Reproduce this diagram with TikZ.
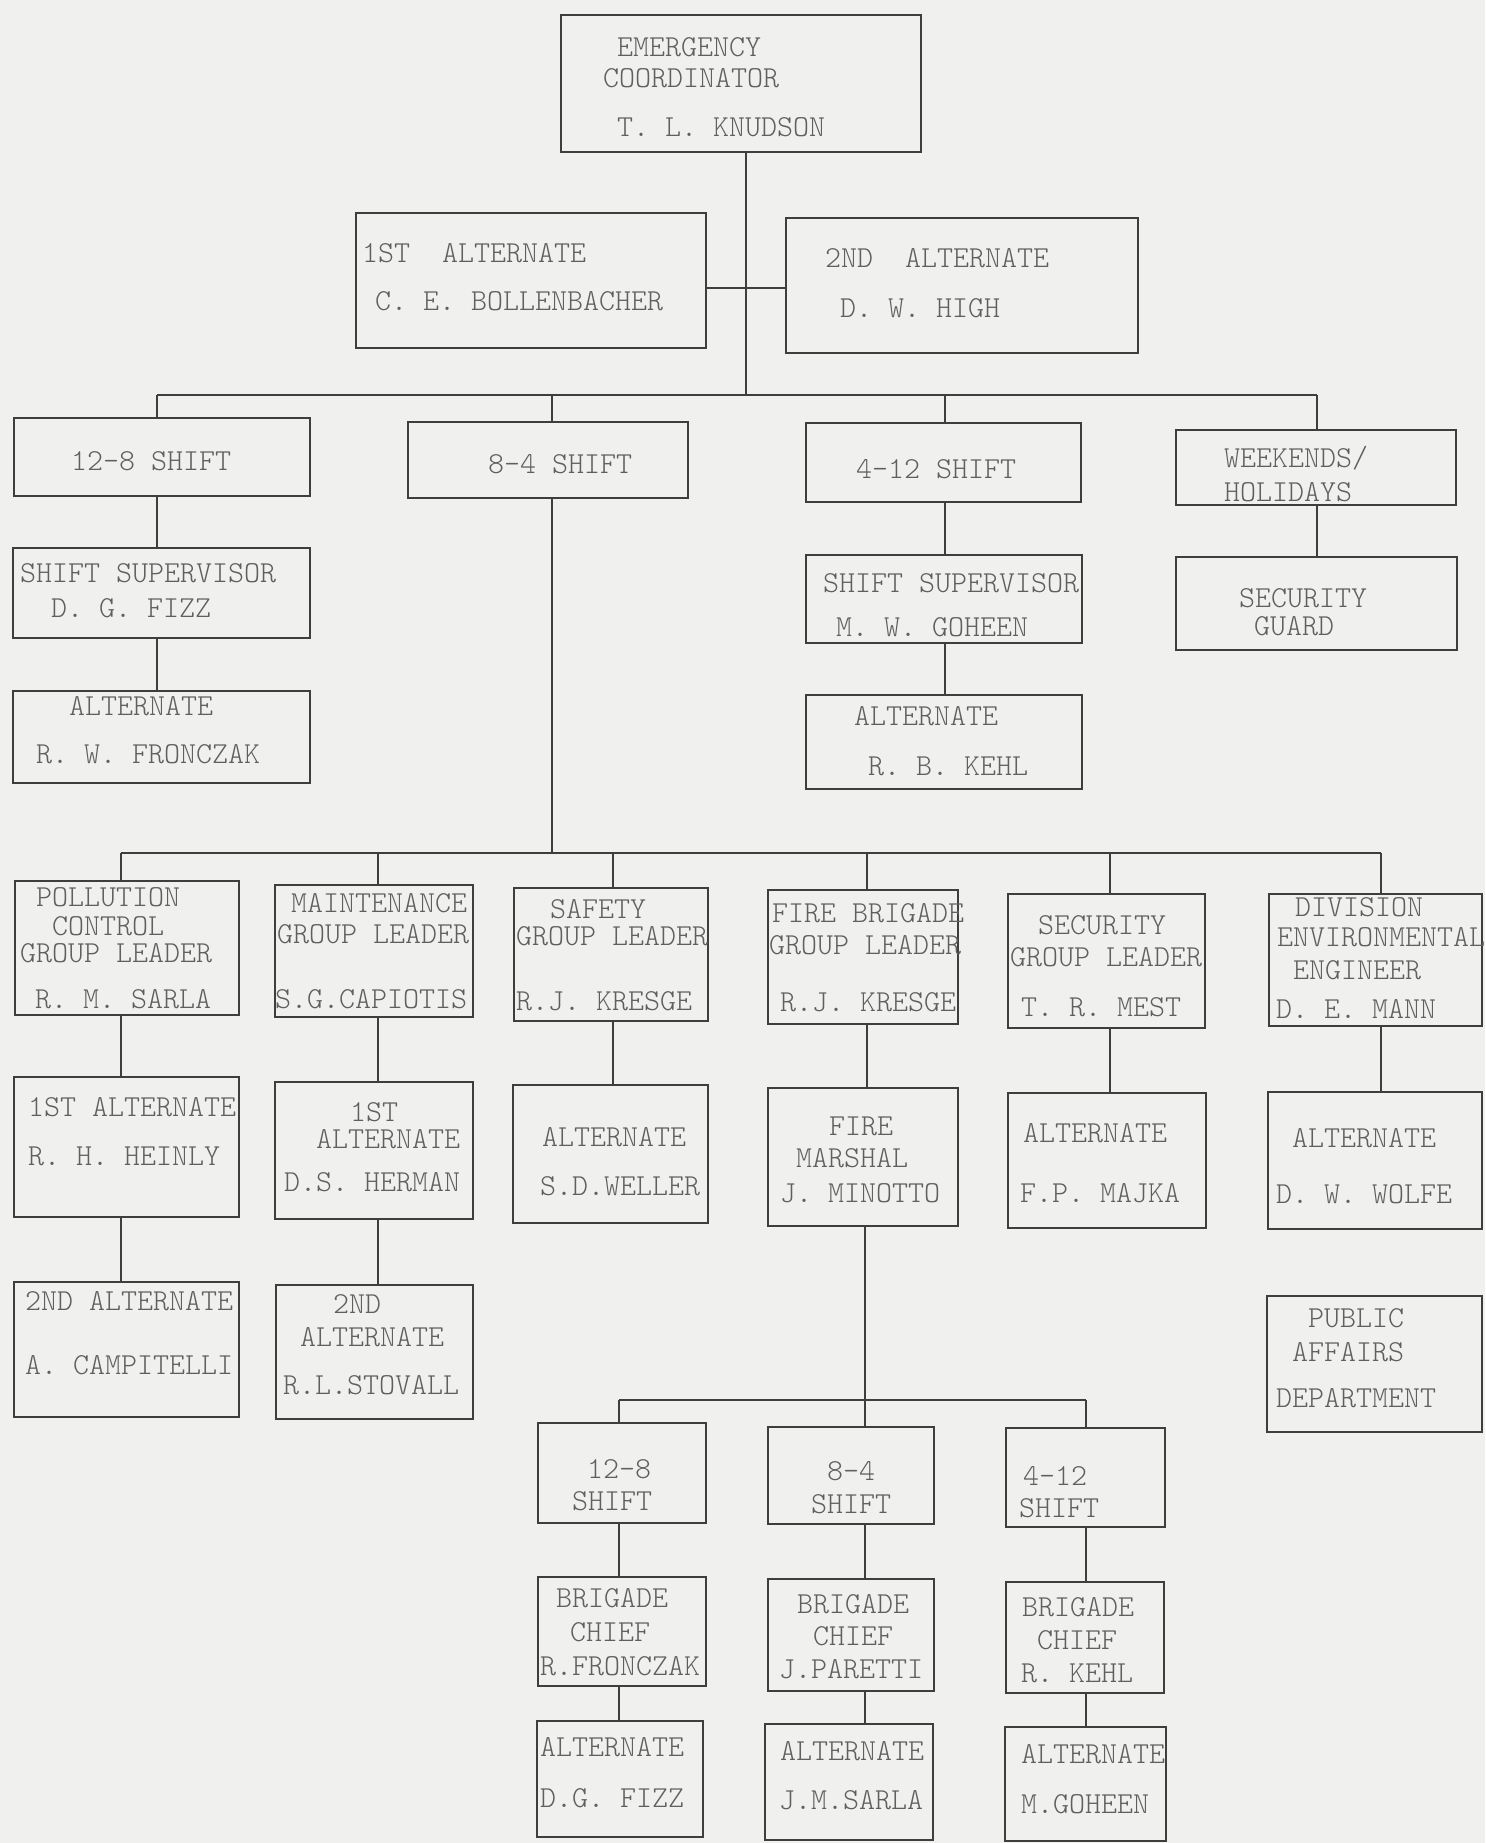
\documentclass[tikz,border=0pt]{standalone}
\usepackage{tikz}
\definecolor{paper}{RGB}{240,240,238}
\definecolor{ink}{RGB}{62,62,62}
\definecolor{typ}{RGB}{95,95,95}
\newcounter{tln}
\newcommand\obox[5]{\node[bx,minimum width={#4-#2},minimum height={#5-#3}] (#1) at ({(#2+#4)/2},{(#3+#5)/2}) {};}
\newcommand\tline[3]{\stepcounter{tln}\node[tx] (t\arabic{tln}) at (#1,#2) {#3};}
\begin{document}
\begin{tikzpicture}[x=1pt,y=-1pt,
  bx/.style={draw=ink,line width=2.2pt,rectangle,inner sep=0pt,outer sep=0pt},
  tx/.style={anchor=base west,inner sep=0pt,outer sep=0pt,text=typ,
    font={\fontsize{30.5pt}{32pt}\fontseries{l}\ttfamily\selectfont}},
  cn/.style={draw=ink,line width=1.8pt}]
\fill[paper] (0,0) rectangle (1485,1843);
\useasboundingbox (0,0) rectangle (1485,1843);
% ---------- boxes ----------
\obox{ec}{561}{15}{921}{152}
\obox{alta}{356}{213}{706}{348}
\obox{altb}{786}{218}{1138}{353}
\obox{sa}{14}{418}{310}{496}
\obox{sb}{408}{422}{688}{498}
\obox{sc}{806}{423}{1081}{502}
\obox{sw}{1176}{430}{1456}{505}
\obox{supa}{13}{548}{310}{638}
\obox{alsa}{13}{691}{310}{783}
\obox{supc}{806}{555}{1082}{643}
\obox{alsc}{806}{695}{1082}{789}
\obox{guard}{1176}{557}{1457}{650}
\obox{pol}{15}{881}{239}{1015}
\obox{mnt}{275}{885}{473}{1017}
\obox{saf}{514}{888}{708}{1021}
\obox{fir}{768}{890}{958}{1024}
\obox{sec}{1008}{894}{1205}{1028}
\obox{div}{1269}{894}{1482}{1026}
\obox{pa1}{14}{1077}{239}{1217}
\obox{ma1}{275}{1082}{473}{1219}
\obox{sa1}{513}{1085}{708}{1223}
\obox{fm}{768}{1088}{958}{1226}
\obox{se1}{1008}{1093}{1206}{1228}
\obox{di1}{1268}{1092}{1482}{1229}
\obox{pa2}{14}{1282}{239}{1417}
\obox{ma2}{276}{1285}{473}{1419}
\obox{pub}{1267}{1296}{1482}{1432}
\obox{fa}{538}{1423}{706}{1523}
\obox{fb}{768}{1427}{934}{1524}
\obox{fc}{1006}{1428}{1165}{1527}
\obox{bca}{538}{1577}{706}{1686}
\obox{bcb}{768}{1579}{934}{1691}
\obox{bcc}{1006}{1582}{1164}{1693}
\obox{baa}{537}{1721}{703}{1837}
\obox{bab}{765}{1724}{933}{1840}
\obox{bac}{1005}{1727}{1166}{1841}
% ---------- connector points ----------
\coordinate (b1) at (746,395);
\coordinate (ha) at (746,288);
\coordinate (d1) at (157,395);
\coordinate (d2) at (552,395);
\coordinate (d3) at (945,395);
\coordinate (d4) at (1317,395);
\coordinate (g84) at (552,853);
\coordinate (gp) at (121,853);
\coordinate (gm) at (378,853);
\coordinate (gs) at (613,853);
\coordinate (gf) at (867,853);
\coordinate (gx) at (1110,853);
\coordinate (gd) at (1381,853);
\coordinate (k1) at (619,1400);
\coordinate (k2) at (865,1400);
\coordinate (k3) at (1086,1400);
% ---------- connectors ----------
\draw[cn] (ec.south -| b1) -- (b1);
\draw[cn] (alta.east |- ha) -- (altb.west |- ha);
\draw[cn] (d1) -- (d4);
\draw[cn] (d1) -- (sa.north -| d1);
\draw[cn] (d2) -- (sb.north -| d2);
\draw[cn] (d3) -- (sc.north -| d3);
\draw[cn] (d4) -- (sw.north -| d4);
\draw[cn] (sa.south -| d1) -- (supa.north -| d1);
\draw[cn] (supa.south -| d1) -- (alsa.north -| d1);
\draw[cn] (sc.south -| d3) -- (supc.north -| d3);
\draw[cn] (supc.south -| d3) -- (alsc.north -| d3);
\draw[cn] (sw.south -| d4) -- (guard.north -| d4);
\draw[cn] (sb.south -| d2) -- (g84);
\draw[cn] (gp) -- (gd);
\draw[cn] (gp) -- (pol.north -| gp);
\draw[cn] (gm) -- (mnt.north -| gm);
\draw[cn] (gs) -- (saf.north -| gs);
\draw[cn] (gf) -- (fir.north -| gf);
\draw[cn] (gx) -- (sec.north -| gx);
\draw[cn] (gd) -- (div.north -| gd);
\draw[cn] (pol.south -| gp) -- (pa1.north -| gp);
\draw[cn] (pa1.south -| gp) -- (pa2.north -| gp);
\draw[cn] (mnt.south -| gm) -- (ma1.north -| gm);
\draw[cn] (ma1.south -| gm) -- (ma2.north -| gm);
\draw[cn] (saf.south -| gs) -- (sa1.north -| gs);
\draw[cn] (fir.south -| gf) -- (fm.north -| gf);
\draw[cn] (sec.south -| gx) -- (se1.north -| gx);
\draw[cn] (div.south -| gd) -- (di1.north -| gd);
\draw[cn] (fm.south -| k2) -- (k2);
\draw[cn] (k1) -- (k3);
\draw[cn] (k1) -- (fa.north -| k1);
\draw[cn] (k2) -- (fb.north -| k2);
\draw[cn] (k3) -- (fc.north -| k3);
\draw[cn] (fa.south -| k1) -- (bca.north -| k1);
\draw[cn] (fb.south -| k2) -- (bcb.north -| k2);
\draw[cn] (fc.south -| k3) -- (bcc.north -| k3);
\draw[cn] (bca.south -| k1) -- (baa.north -| k1);
\draw[cn] (bcb.south -| k2) -- (bab.north -| k2);
\draw[cn] (bcc.south -| k3) -- (bac.north -| k3);
% ---------- texts ----------
\tline{617}{57}{EMERGENCY}
\tline{603}{88}{COORDINATOR}
\tline{617}{137}{T. L. KNUDSON}
\tline{362}{263}{1ST~~ALTERNATE}
\tline{375}{311}{C. E. BOLLENBACHER}
\tline{825}{268}{2ND~~ALTERNATE}
\tline{840}{317}{D. W. HIGH}
\tline{71}{470}{12-8 SHIFT}
\tline{488}{473}{8-4 SHIFT}
\tline{856}{478}{4-12 SHIFT}
\tline{1224}{467}{WEEKENDS/}
\tline{1224}{501}{HOLIDAYS}
\tline{20}{582}{SHIFT SUPERVISOR}
\tline{51}{617}{D. G. FIZZ}
\tline{69}{715}{ALTERNATE}
\tline{36}{763}{R. W. FRONCZAK}
\tline{823}{592}{SHIFT SUPERVISOR}
\tline{836}{636}{M. W. GOHEEN}
\tline{854}{725}{ALTERNATE}
\tline{868}{775}{R. B. KEHL}
\tline{1239}{607}{SECURITY}
\tline{1254}{635}{GUARD}
\tline{36}{906}{POLLUTION}
\tline{52}{935}{CONTROL}
\tline{20}{962}{GROUP LEADER}
\tline{35}{1008}{R. M. SARLA}
\tline{291}{912}{MAINTENANCE}
\tline{277}{943}{GROUP LEADER}
\tline{275}{1008}{S.G.CAPIOTIS}
\tline{550}{918}{SAFETY}
\tline{516}{945}{GROUP LEADER}
\tline{516}{1010}{R.J. KRESGE}
\tline{772}{922}{FIRE BRIGADE}
\tline{769}{954}{GROUP LEADER}
\tline{780}{1011}{R.J. KRESGE}
\tline{1038}{934}{SECURITY}
\tline{1010}{966}{GROUP LEADER}
\tline{1021}{1016}{T. R. MEST}
\tline{1295}{916}{DIVISION}
\tline{1277}{946}{ENVIRONMENTAL}
\tline{1293}{979}{ENGINEER}
\tline{1276}{1018}{D. E. MANN}
\tline{28}{1116}{1ST ALTERNATE}
\tline{28}{1165}{R. H. HEINLY}
\tline{350}{1121}{1ST}
\tline{316}{1148}{ALTERNATE}
\tline{284}{1191}{D.S. HERMAN}
\tline{542}{1146}{ALTERNATE}
\tline{540}{1195}{S.D.WELLER}
\tline{829}{1135}{FIRE}
\tline{796}{1167}{MARSHAL}
\tline{780}{1202}{J. MINOTTO}
\tline{1023}{1142}{ALTERNATE}
\tline{1020}{1202}{F.P. MAJKA}
\tline{1292}{1147}{ALTERNATE}
\tline{1276}{1203}{D. W. WOLFE}
\tline{25}{1310}{2ND ALTERNATE}
\tline{25}{1374}{A. CAMPITELLI}
\tline{333}{1313}{2ND}
\tline{300}{1346}{ALTERNATE}
\tline{283}{1394}{R.L.STOVALL}
\tline{1308}{1327}{PUBLIC}
\tline{1292}{1361}{AFFAIRS}
\tline{1276}{1407}{DEPARTMENT}
\tline{587}{1478}{12-8}
\tline{572}{1510}{SHIFT}
\tline{827}{1480}{8-4}
\tline{811}{1513}{SHIFT}
\tline{1023}{1485}{4-12}
\tline{1019}{1517}{SHIFT}
\tline{556}{1607}{BRIGADE}
\tline{570}{1641}{CHIEF}
\tline{540}{1675}{R.FRONCZAK}
\tline{797}{1613}{BRIGADE}
\tline{813}{1645}{CHIEF}
\tline{779}{1678}{J.PARETTI}
\tline{1022}{1616}{BRIGADE}
\tline{1037}{1649}{CHIEF}
\tline{1021}{1682}{R. KEHL}
\tline{540}{1756}{ALTERNATE}
\tline{540}{1807}{D.G. FIZZ}
\tline{780}{1760}{ALTERNATE}
\tline{779}{1809}{J.M.SARLA}
\tline{1021}{1763}{ALTERNATE}
\tline{1021}{1813}{M.GOHEEN}
\end{tikzpicture}
\end{document}
